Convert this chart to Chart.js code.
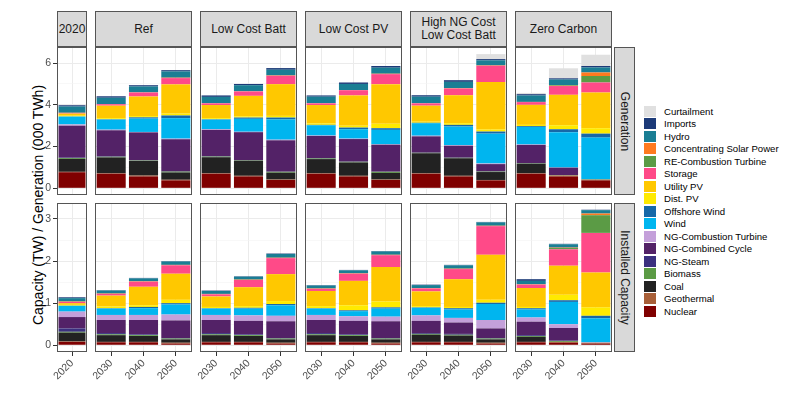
<!DOCTYPE html>
<html lang="en">
<head>
<meta charset="UTF-8">
<title>Capacity and Generation by Scenario</title>
<script src="https://cdn.jsdelivr.net/npm/chart.js@4.4.1/dist/chart.umd.min.js"></script>
<style>
  body { margin: 0; background: #fff; font-family: "Liberation Sans", Arial, sans-serif; }
  #wrap { position: relative; width: 800px; height: 395px; overflow: hidden; }
  canvas { position: absolute; }
  .strip { position: absolute; box-sizing: border-box; background: #D9D9D9; border: 1px solid #555;
           display: flex; align-items: center; justify-content: center; text-align: center;
           font-size: 12px; line-height: 13px; color: #1A1A1A; white-space: pre; }
  .vstrip span { transform: rotate(90deg); white-space: nowrap; }
  #ytitle { position: absolute; left: 38px; top: 205px; transform: translate(-50%, -50%) rotate(-90deg);
            font-size: 14px; color: #000; white-space: nowrap; }
  #legend { position: absolute; left: 644px; top: 105px; font-size: 9.6px; color: #000; }
  .item { height: 12.5px; display: flex; align-items: center; }
  .key { width: 12px; height: 11px; margin-right: 8px; }
</style>
</head>
<body>
<div id="wrap">
  <div id="ytitle">Capacity (TW) / Generation (000 TWh)</div>
  <div id="legend"></div>
</div>
<script>
// facets and categories
const scenarios = ['2020', 'Ref', 'Low Cost Batt', 'Low Cost PV', 'High NG Cost\nLow Cost Batt', 'Zero Carbon'];
const scenarioYears = [['2020'], ['2030', '2040', '2050'], ['2030', '2040', '2050'],
                       ['2030', '2040', '2050'], ['2030', '2040', '2050'], ['2030', '2040', '2050']];
const rowLabels = ['Generation', 'Installed Capacity'];

// stack order, bottom to top
const techs = ['Nuclear', 'Geothermal', 'Coal', 'Biomass', 'NG-Steam', 'NG-Combined Cycle',
  'NG-Combustion Turbine', 'Wind', 'Offshore Wind', 'Dist. PV', 'Utility PV', 'Storage',
  'RE-Combustion Turbine', 'Concentrating Solar Power', 'Hydro', 'Imports', 'Curtailment'];
const techColors = ['#7F0000', '#A85F38', '#222222', '#5B9B45', '#3B307F', '#532267',
  '#C4A0DA', '#00B5EF', '#1668A8', '#FFEA00', '#FFC800', '#FF4A88',
  '#5B9B45', '#FF7A1F', '#1A7E94', '#1C3A78', '#E0E0E0'];

// generation (000 TWh); bars: 2020 | Ref 30,40,50 | LCB | LCPV | HighNG | ZeroC
const genNuclear     = [0.77, 0.70, 0.57, 0.38, 0.70, 0.57, 0.40, 0.70, 0.57, 0.40, 0.70, 0.57, 0.38, 0.70, 0.57, 0.38];
const genGeothermal  = [0.02, 0.02, 0.04, 0.03, 0.02, 0.03, 0.02, 0.02, 0.03, 0.02, 0.02, 0.03, 0.02, 0.02, 0.04, 0.03];
const genCoal        = [0.62, 0.76, 0.70, 0.35, 0.77, 0.72, 0.33, 0.68, 0.64, 0.32, 0.96, 0.84, 0.38, 0.46, 0, 0];
const genBiomass     = [0.04, 0.03, 0.02, 0.04, 0.03, 0.02, 0.04, 0.03, 0.03, 0.05, 0.02, 0.02, 0.02, 0.02, 0.02, 0.02];
const genNGSteam     = [0.02, 0.02, 0.01, 0.01, 0.02, 0.01, 0.01, 0.02, 0.01, 0.01, 0.01, 0.01, 0.01, 0.01, 0, 0];
const genNGCC        = [1.53, 1.25, 1.34, 1.54, 1.26, 1.34, 1.50, 1.06, 1.08, 1.29, 0.78, 0.57, 0.35, 0.87, 0.36, 0];
const genNGCT        = [0.06, 0.03, 0.02, 0.03, 0.03, 0.02, 0.03, 0.02, 0.02, 0.02, 0.03, 0.03, 0.03, 0.02, 0.01, 0.01];
const genWind        = [0.38, 0.48, 0.64, 0.98, 0.46, 0.62, 0.97, 0.49, 0.45, 0.69, 0.60, 0.89, 1.43, 0.84, 1.69, 1.99];
const genOffshore    = [0, 0.02, 0.06, 0.13, 0.02, 0.06, 0.09, 0.02, 0.08, 0.08, 0.02, 0.08, 0.10, 0.04, 0.14, 0.19];
const genDistPV      = [0.04, 0.05, 0.06, 0.09, 0.05, 0.06, 0.08, 0.07, 0.09, 0.21, 0.05, 0.08, 0.10, 0.06, 0.19, 0.26];
const genUtilityPV   = [0.10, 0.60, 0.94, 1.40, 0.63, 0.98, 1.52, 0.88, 1.45, 1.90, 0.77, 1.34, 2.27, 0.96, 1.46, 1.71];
const genStorage     = [0.03, 0.07, 0.19, 0.30, 0.08, 0.21, 0.40, 0.08, 0.25, 0.48, 0.11, 0.32, 0.78, 0.13, 0.42, 0.48];
const genRECT        = [0, 0, 0, 0, 0, 0, 0, 0, 0, 0, 0, 0, 0, 0, 0.03, 0.31];
const genCSP         = [0.01, 0.01, 0.01, 0.02, 0.01, 0.01, 0.02, 0.01, 0.01, 0.02, 0.01, 0.02, 0.02, 0.01, 0.02, 0.17];
const genHydro       = [0.30, 0.30, 0.28, 0.30, 0.30, 0.29, 0.27, 0.31, 0.29, 0.29, 0.31, 0.30, 0.24, 0.31, 0.26, 0.24];
const genImports     = [0.06, 0.07, 0.06, 0.06, 0.07, 0.06, 0.08, 0.06, 0.07, 0.08, 0.07, 0.08, 0.06, 0.06, 0.06, 0.07];
const genCurtailment = [0, 0, 0, 0, 0, 0, 0, 0, 0, 0, 0, 0, 0.24, 0.06, 0.48, 0.54];

// installed capacity (TW)
const capNuclear     = [0.08, 0.07, 0.07, 0.04, 0.07, 0.07, 0.04, 0.07, 0.07, 0.04, 0.07, 0.07, 0.04, 0.07, 0.06, 0.04];
const capGeothermal  = [0.01, 0.01, 0.01, 0.02, 0.01, 0.01, 0.02, 0.01, 0.01, 0.02, 0.01, 0.01, 0.02, 0.01, 0.02, 0.02];
const capCoal        = [0.21, 0.16, 0.14, 0.08, 0.16, 0.14, 0.08, 0.16, 0.14, 0.08, 0.17, 0.15, 0.08, 0.12, 0, 0];
const capBiomass     = [0.02, 0.02, 0.02, 0.02, 0.02, 0.02, 0.02, 0.02, 0.02, 0.02, 0.02, 0.02, 0.02, 0.02, 0.02, 0];
const capNGSteam     = [0.08, 0.03, 0.02, 0.01, 0.03, 0.02, 0.01, 0.03, 0.02, 0.01, 0.02, 0.02, 0.01, 0.02, 0.01, 0];
const capNGCC        = [0.27, 0.31, 0.34, 0.42, 0.31, 0.32, 0.40, 0.31, 0.32, 0.40, 0.29, 0.27, 0.23, 0.32, 0.30, 0];
const capNGCT        = [0.13, 0.12, 0.12, 0.14, 0.12, 0.13, 0.13, 0.12, 0.11, 0.11, 0.13, 0.11, 0.20, 0.10, 0.09, 0.01];
const capWind        = [0.14, 0.15, 0.16, 0.24, 0.15, 0.16, 0.25, 0.15, 0.12, 0.19, 0.18, 0.20, 0.38, 0.19, 0.53, 0.57];
const capOffshore    = [0, 0.01, 0.03, 0.03, 0.01, 0.02, 0.03, 0.01, 0.02, 0.03, 0.01, 0.03, 0.03, 0.03, 0.04, 0.06];
const capDistPV      = [0.02, 0.04, 0.04, 0.08, 0.03, 0.04, 0.07, 0.05, 0.12, 0.14, 0.03, 0.03, 0.07, 0.03, 0.13, 0.20];
const capUtilityPV   = [0.04, 0.26, 0.44, 0.62, 0.25, 0.45, 0.64, 0.36, 0.58, 0.82, 0.35, 0.66, 1.07, 0.45, 0.69, 0.83];
const capStorage     = [0.03, 0.04, 0.12, 0.20, 0.05, 0.17, 0.38, 0.05, 0.17, 0.28, 0.07, 0.24, 0.68, 0.08, 0.39, 0.94];
const capRECT        = [0, 0, 0, 0, 0, 0, 0, 0, 0, 0, 0, 0, 0, 0, 0.03, 0.42];
const capCSP         = [0.01, 0.01, 0.01, 0.01, 0.01, 0.01, 0.01, 0.01, 0.01, 0.01, 0.01, 0.01, 0.01, 0.01, 0.01, 0.04];
const capHydro       = [0.08, 0.07, 0.07, 0.08, 0.07, 0.07, 0.09, 0.07, 0.07, 0.08, 0.07, 0.08, 0.08, 0.08, 0.08, 0.08];
const capImports     = [0.02, 0.01, 0.01, 0.01, 0.01, 0.01, 0.01, 0.01, 0.01, 0.01, 0.01, 0.01, 0.01, 0.04, 0.01, 0.01];
const capCurtailment = [0, 0, 0, 0, 0, 0, 0, 0, 0, 0, 0, 0, 0, 0, 0, 0];

const genSeries = [genNuclear, genGeothermal, genCoal, genBiomass, genNGSteam, genNGCC, genNGCT, genWind,
  genOffshore, genDistPV, genUtilityPV, genStorage, genRECT, genCSP, genHydro, genImports, genCurtailment];
const capSeries = [capNuclear, capGeothermal, capCoal, capBiomass, capNGSteam, capNGCC, capNGCT, capWind,
  capOffshore, capDistPV, capUtilityPV, capStorage, capRECT, capCSP, capHydro, capImports, capCurtailment];

// y axis per row
const yMin = [-0.32, -0.16];
const yMax = [6.77, 3.38];
const yStep = [1, 0.5];
const yMajor = [2, 1];

// layout of the panels (px)
const colLeft = [57, 95, 200, 305, 410, 515];
const colWidth = [30, 97, 97, 97, 97, 97];
const rowTop = [47, 203];
const rowHeight = [148, 149];

Chart.defaults.font.family = '"Liberation Sans", Arial, sans-serif';

const wrap = document.getElementById('wrap');

const panelBorder = {
  id: 'panelBorder',
  afterDraw(chart) {
    const a = chart.chartArea, c = chart.ctx;
    c.save();
    c.strokeStyle = '#555';
    c.lineWidth = 1;
    c.strokeRect(a.left + 0.5, a.top + 0.5, a.right - a.left - 1, a.bottom - a.top - 1);
    c.restore();
  }
};

function isMajor(row, v) {
  const r = v / yMajor[row];
  return Math.abs(r - Math.round(r)) < 1e-6;
}

let start = 0;
const colStart = scenarioYears.map(y => { const s = start; start += y.length; return s; });

for (let row = 0; row < 2; row++) {
  const series = row === 0 ? genSeries : capSeries;
  for (let col = 0; col < scenarios.length; col++) {
    const padL = col === 0 ? 50 : (row === 1 ? 14 : 0);
    const padB = row === 1 ? 40 : 0;
    const cv = document.createElement('canvas');
    cv.width = colWidth[col] + padL;
    cv.height = rowHeight[row] + padB;
    cv.style.left = (colLeft[col] - padL) + 'px';
    cv.style.top = rowTop[row] + 'px';
    wrap.appendChild(cv);

    const n = scenarioYears[col].length;
    const s0 = colStart[col];
    new Chart(cv, {
      type: 'bar',
      data: {
        labels: scenarioYears[col],
        datasets: techs.map((t, k) => ({
          label: t,
          data: series[k].slice(s0, s0 + n).map(v => v || null),
          backgroundColor: techColors[k],
          borderWidth: 0,
          barPercentage: 0.9,
          categoryPercentage: 1
        }))
      },
      options: {
        responsive: false,
        animation: false,
        events: [],
        layout: { padding: 0 },
        plugins: { legend: { display: false }, tooltip: { enabled: false } },
        scales: {
          x: {
            stacked: true,
            offset: true,
            border: { display: false },
            grid: { offset: false, color: '#EBEBEB', lineWidth: 1, drawTicks: row === 1, tickLength: 4, tickColor: '#333' },
            ticks: { display: row === 1, minRotation: 45, maxRotation: 45, padding: 1,
                     font: { size: 10.5 }, color: '#4D4D4D' },
            afterFit(s) { s.height = padB; s.paddingLeft = 0; s.paddingRight = 0; }
          },
          y: {
            stacked: true,
            min: yMin[row],
            max: yMax[row],
            border: { display: false },
            grid: {
              color: c => isMajor(row, c.tick.value) ? '#EBEBEB' : '#F3F3F3',
              lineWidth: c => isMajor(row, c.tick.value) ? 1 : 0.6,
              drawTicks: col === 0,
              tickLength: 4,
              tickColor: c => isMajor(row, c.tick.value) ? '#333' : 'rgba(0,0,0,0)'
            },
            ticks: {
              display: col === 0,
              stepSize: yStep[row],
              includeBounds: false,
              padding: 2,
              font: { size: 10.5 },
              color: '#4D4D4D',
              callback: v => isMajor(row, v) ? String(Math.round(v)) : ''
            },
            afterFit(s) { s.width = padL; s.paddingTop = 0; s.paddingBottom = 0; }
          }
        }
      },
      plugins: [panelBorder]
    });
  }
}

// facet strips
scenarios.forEach((name, col) => {
  const d = document.createElement('div');
  d.className = 'strip';
  d.style.left = colLeft[col] + 'px';
  d.style.top = '11px';
  d.style.width = colWidth[col] + 'px';
  d.style.height = '36px';
  d.textContent = name;
  wrap.appendChild(d);
});
rowLabels.forEach((name, row) => {
  const d = document.createElement('div');
  d.className = 'strip vstrip';
  d.style.left = '614px';
  d.style.top = rowTop[row] + 'px';
  d.style.width = '21px';
  d.style.height = rowHeight[row] + 'px';
  const sp = document.createElement('span');
  sp.textContent = name;
  d.appendChild(sp);
  wrap.appendChild(d);
});

// legend, top of stack first
const legend = document.getElementById('legend');
for (let k = techs.length - 1; k >= 0; k--) {
  const it = document.createElement('div');
  it.className = 'item';
  it.innerHTML = '<div class="key" style="background:' + techColors[k] + '"></div><span>' + techs[k] + '</span>';
  legend.appendChild(it);
}
</script>
</body>
</html>
